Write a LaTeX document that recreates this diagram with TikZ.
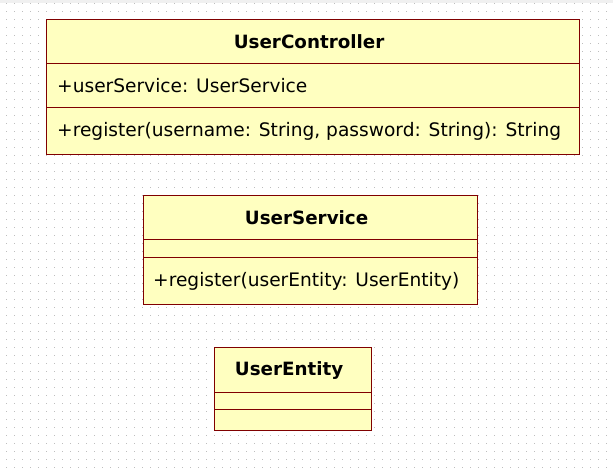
\documentclass[tikz,border=0pt]{standalone}
\usepackage{fontspec}
\setmainfont{DejaVu Sans}
\definecolor{umlfill}{RGB}{255,255,192}
\definecolor{umlline}{RGB}{128,0,0}
\definecolor{griddot}{RGB}{190,190,190}
\begin{document}
\begin{tikzpicture}[x=1pt,y=-1pt,
  comp/.style={draw=umlline,fill=umlfill,line width=1.2pt,inner sep=0pt,anchor=north west},
  ttl/.style={font=\fontsize{18.3}{20}\selectfont\bfseries,inner sep=0pt,xshift=-4pt},
  mem/.style={font=\fontsize{18.6}{20}\selectfont,inner sep=0pt,anchor=west}]
\useasboundingbox (0,0) rectangle (613,469);
\fill[white] (0,0) rectangle (613,469);
\fill[gray!12] (0,0) rectangle (613,2.5);
\foreach \i in {0,...,76}{
  \foreach \j in {0,...,58}{
    \fill[griddot] ({6+8*\i-0.5},{3+8*\j-0.5}) rectangle +(1,1);
  }
}
% UserController
\node[comp,minimum width=533,minimum height=44] (uct) at (46,19) {};
\node[comp,minimum width=533,minimum height=44] (uca) at (46,63) {};
\node[comp,minimum width=533,minimum height=47] (ucm) at (46,107) {};
\node[ttl] (uctt) at (uct.center) {UserController};
\node[mem] (ucat) at ([xshift=11pt]uca.west) {+userService: UserService};
\node[mem] (ucmt) at ([xshift=11pt]ucm.west) {+register(username: String, password: String): String};
% UserService
\node[comp,minimum width=334,minimum height=44] (ust) at (143,195) {};
\node[comp,minimum width=334,minimum height=18] (usa) at (143,239) {};
\node[comp,minimum width=334,minimum height=47] (usm) at (143,257) {};
\node[ttl] (ustt) at (ust.center) {UserService};
\node[mem] (usmt) at ([xshift=10pt]usm.west) {+register(userEntity: UserEntity)};
% UserEntity
\node[comp,minimum width=157,minimum height=45] (uet) at (214,347) {};
\node[comp,minimum width=157,minimum height=17] (uea) at (214,392) {};
\node[comp,minimum width=157,minimum height=21] (uem) at (214,409) {};
\node[ttl] (uett) at (uet.center) {UserEntity};
\end{tikzpicture}
\end{document}
